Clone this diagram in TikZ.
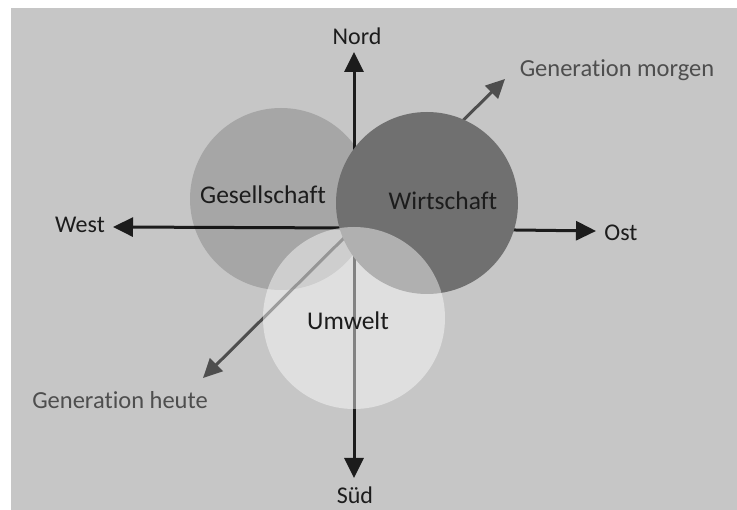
\documentclass[tikz,border=0pt]{standalone}
\usepackage{fontspec}
\setmainfont[Ligatures=NoCommon]{Carlito}
\usetikzlibrary{arrows.meta}
\definecolor{bgcol}{RGB}{198,198,198}
\definecolor{wircol}{RGB}{112,112,112}
\definecolor{gencol}{RGB}{78,78,78}
\definecolor{txtcol}{RGB}{28,28,28}
\begin{document}
\begin{tikzpicture}[x=1pt,y=-1pt,
  axis/.style={line width=3pt,draw=txtcol,-{Triangle[length=20pt,width=19pt]}},
  genarrow/.style={line width=3pt,draw=gencol,-{Triangle[length=19pt,width=18pt]}},
  circ/.style={circle,minimum size=182pt,inner sep=0pt,draw=none},
  lab/.style={font=\fontsize{24}{28}\selectfont,text=txtcol,inner sep=1pt},
  genlab/.style={font=\fontsize{24.5}{28}\selectfont,text=gencol,inner sep=1pt},
  biglab/.style={font=\fontsize{25.5}{30}\selectfont,text=txtcol,inner sep=1pt}]
\useasboundingbox (0,0) rectangle (737,510);
\fill[white] (0,0) rectangle (737,510);
\fill[bgcol] (11,8) rectangle (737,510);
% centre and arrow tips
\coordinate (c) at (354,228);
\coordinate (nordtip) at (354,52);
\coordinate (suedtip) at (354,478);
\coordinate (westtip) at (113,227);
\coordinate (osttip) at (596,231);
\coordinate (genmtip) at (505,79);
\coordinate (genhtip) at (203,378);
% axes
\draw[axis] (c) -- (nordtip);
\draw[axis] (c) -- (suedtip);
\draw[axis] (c) -- (westtip);
\draw[axis] (c) -- (osttip);
\draw[genarrow] (c) -- (genmtip);
\draw[genarrow] (c) -- (genhtip);
% circles
\node[circ,fill=black,fill opacity=0.16] (ges) at (281,199) {};
\node[circ,fill=wircol] (wir) at (427,203) {};
\node[circ,fill=white,fill opacity=0.45] (umw) at (354,318) {};
% labels
\node[biglab] (gesl) at (263,195) {Gesellschaft};
\node[biglab] (wirl) at (443,201) {Wirtschaft};
\node[biglab] (umwl) at (348,321) {Umwelt};
\node[lab] (nord) at (357,36) {Nord};
\node[lab] (sued) at (355,495) {Süd};
\node[lab] (west) at (80,225) {West};
\node[lab] (ost) at (621,233) {Ost};
\node[genlab] (genm) at (617,70) {Generation morgen};
\node[genlab] (genh) at (120,400) {Generation heute};
\end{tikzpicture}
\end{document}
